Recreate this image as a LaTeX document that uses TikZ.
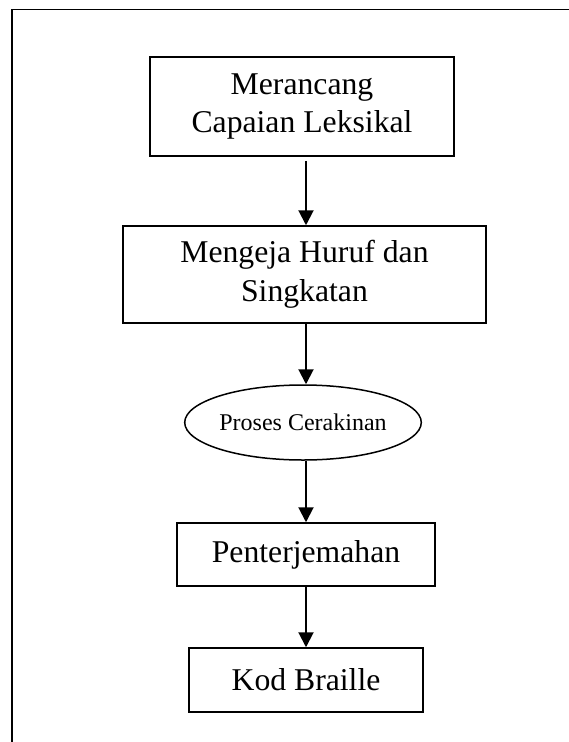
\documentclass[tikz,border=0pt]{standalone}
\usepackage{fontspec}
\setmainfont{Liberation Serif}
\usetikzlibrary{arrows.meta,shapes.geometric}
\begin{document}
\begin{tikzpicture}[x=1pt,y=-1pt,
  stepbox/.style={draw,line width=1.5pt,rectangle,inner sep=0pt,align=center,
    font=\fontsize{31.7}{38.5}\selectfont},
  ovalbox/.style={draw,line width=1.5pt,ellipse,inner sep=0pt,align=center,
    font=\fontsize{24}{29}\selectfont},
  flow/.style={line width=2pt,-{Triangle[length=15pt,width=15pt]}},
  frameline/.style={line width=1.6pt}]
\useasboundingbox (0,0) rectangle (569,742);

% outer frame (left and top edges)
\coordinate (fbl) at (11.7,742);
\coordinate (ftl) at (11.7,9.3);
\coordinate (ftr) at (569,9.3);
\draw[frameline] (fbl) -- (ftl) -- (ftr);

% flow steps
\node[stepbox,minimum width=304pt,minimum height=99pt] (b1) at (302,106.5)
  {Merancang\\Capaian Leksikal};
\node[stepbox,minimum width=363pt,minimum height=97pt] (b2) at (304.5,274.5)
  {Mengeja Huruf dan\\Singkatan};
\node[ovalbox,minimum width=234pt,minimum height=75pt] (e) at (303,422.5)
  {Proses Cerakinan};
\node[stepbox,minimum width=258pt,minimum height=63pt] (b3) at (306,554.5)
  {Penterjemahan};
\node[stepbox,minimum width=234pt,minimum height=64pt] (b4) at (306,680)
  {Kod Braille};

% arrows run down a common vertical line
\coordinate (ax) at (306,0);
\draw[flow,shorten <=4pt] (b1.south -| ax) -- (b2.north -| ax);
\draw[flow] (b2.south -| ax) -- (e.north -| ax);
\draw[flow] (e.south -| ax) -- (b3.north -| ax);
\draw[flow] (b3.south -| ax) -- (b4.north -| ax);
\end{tikzpicture}
\end{document}
